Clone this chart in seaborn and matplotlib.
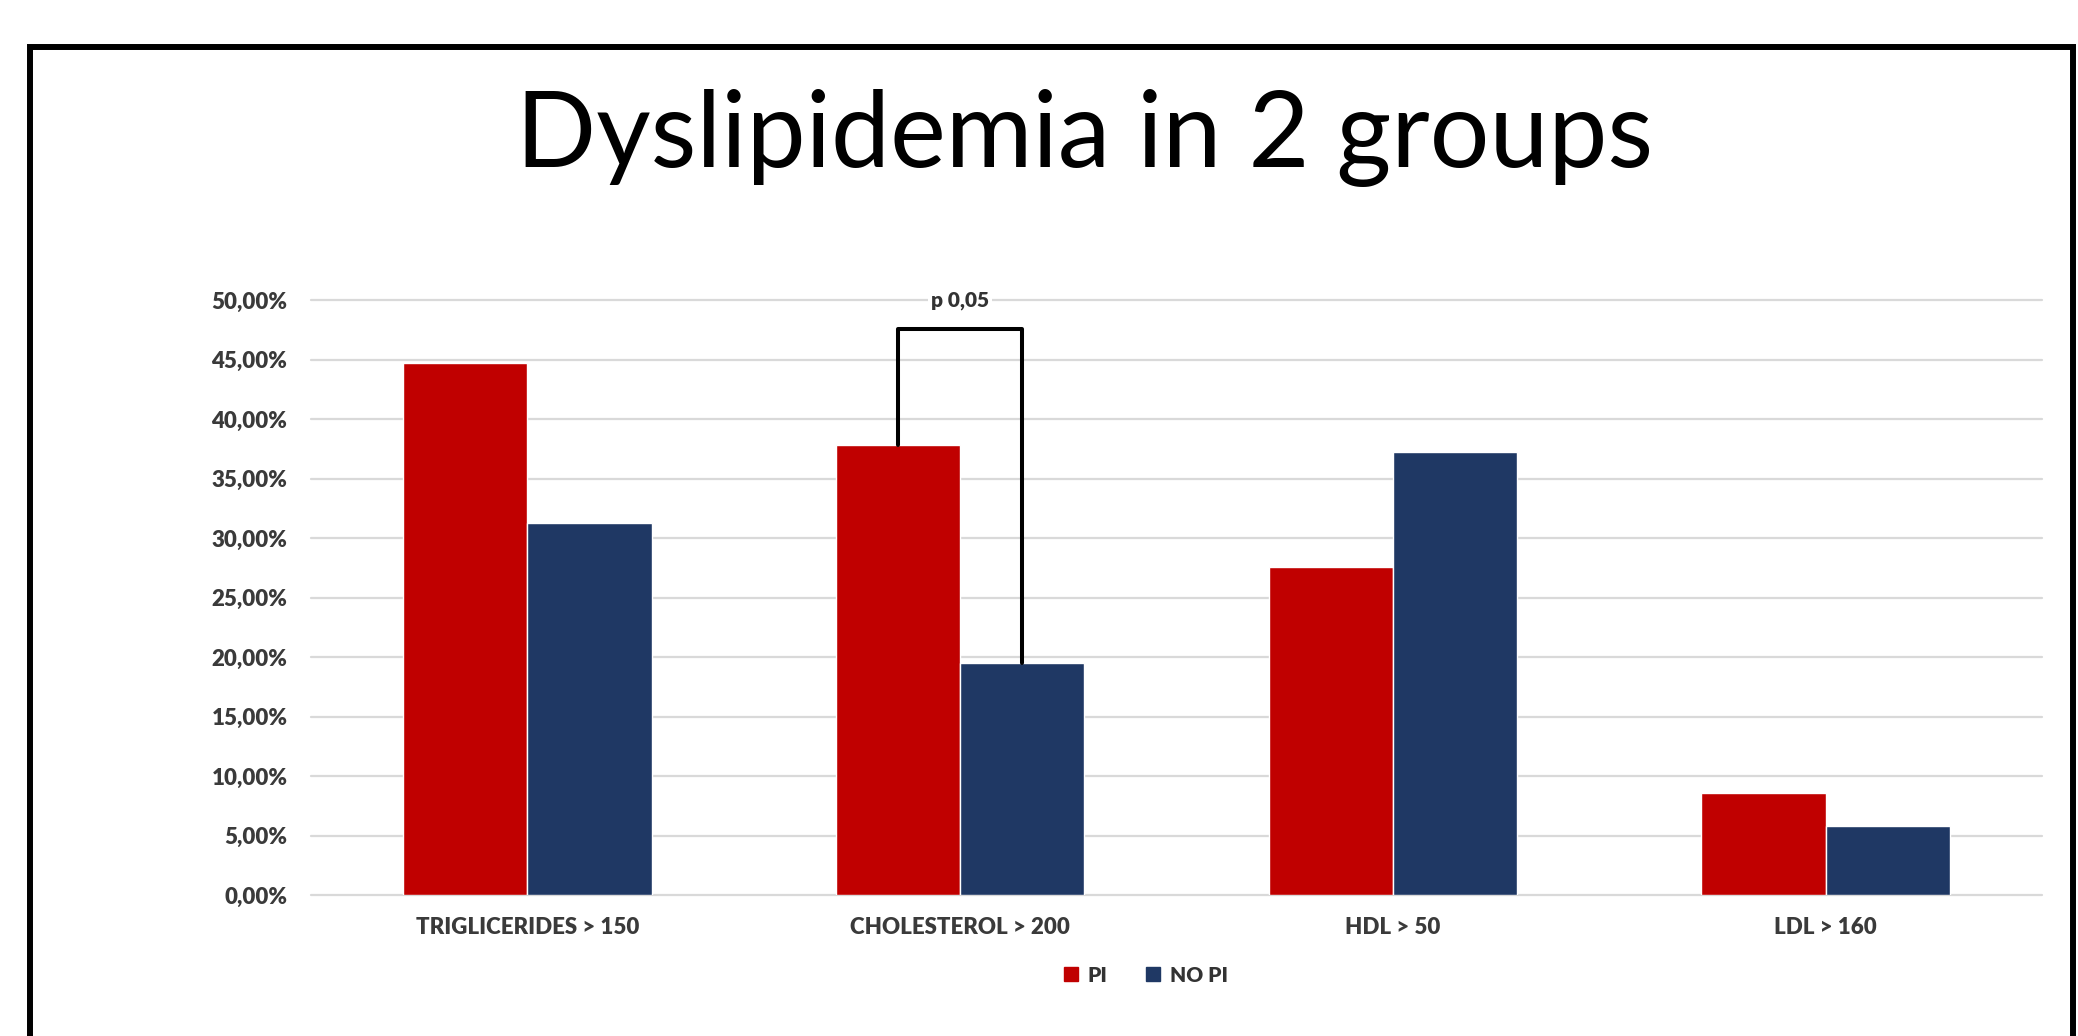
import numpy as np
import pandas as pd
import matplotlib.pyplot as plt
import seaborn as sns
from matplotlib.lines import Line2D

# dati (percentuali)
categories = ['TRIGLICERIDES > 150', 'CHOLESTEROL > 200', 'HDL > 50', 'LDL > 160']
groups = ['PI', 'NO PI']
pi_values = [44.7, 37.8, 27.6, 8.6]
no_pi_values = [31.3, 19.5, 37.2, 5.8]
colors = ['#C00000', '#1F3864']
y_ticks = [0, 5, 10, 15, 20, 25, 30, 35, 40, 45, 50]
y_labels = [f'{v:.2f}%'.replace('.', ',') for v in y_ticks]
bracket_top = 47.6
p_label = 'p 0,05'
title = 'Dyslipidemia in 2 groups'

df = pd.DataFrame({
    'categoria': categories * 2,
    'grupo': [groups[0]] * len(categories) + [groups[1]] * len(categories),
    'valor': pi_values + no_pi_values,
})

sns.set_style('white')
plt.rcParams['font.family'] = ['Lato', 'DejaVu Sans']

W, H = 2078, 1036
fig = plt.figure(figsize=(W / 100, H / 100), dpi=100)
ax = fig.add_axes([311 / W, 1 - 895 / H, 1731 / W, 595 / H])

bar_w = 0.574
sns.barplot(data=df, x='categoria', y='valor', hue='grupo', palette=colors,
            width=bar_w, gap=0, saturation=1, errorbar=None, legend=False, ax=ax)

ax.set_xlim(-0.5, len(categories) - 0.5)
ax.set_ylim(0, 50)
ax.set_yticks(y_ticks)
ax.set_yticklabels(y_labels, fontweight='heavy')
ax.set_xticks(range(len(categories)))
ax.set_xticklabels(categories, fontweight='heavy')
ax.set_xlabel('')
ax.set_ylabel('')
for s in ax.spines.values():
    s.set_visible(False)
ax.set_axisbelow(True)
ax.grid(axis='y', color='#D9D9D9', lw=1.6)
for gl in ax.yaxis.get_gridlines():
    gl.set_clip_on(False)

ax.tick_params(axis='y', length=0, pad=17, labelsize=16, labelcolor='#3a3a3a')
ax.tick_params(axis='x', length=0, pad=16, labelsize=16, labelcolor='#3a3a3a')

# parentesi p-value sopra il colesterolo
i = categories.index('CHOLESTEROL > 200')
x0, x1 = i - bar_w / 4, i + bar_w / 4
ax.plot([x0, x0, x1, x1], [pi_values[i], bracket_top, bracket_top, no_pi_values[i]],
        color='black', lw=2.9, solid_joinstyle='round', clip_on=False, zorder=5)
ax.text(i, 50, p_label, ha='center', va='center', fontsize=15, fontweight='heavy',
        color='#333333', bbox=dict(facecolor='white', edgecolor='none', pad=2), zorder=6)

handles = [Line2D([], [], marker='s', ls='', color=c, markersize=10) for c in colors]
fig.legend(handles, groups, loc='center', bbox_to_anchor=(1145 / W, 1 - 975 / H), ncol=2,
           frameon=False, prop={'weight': 'heavy', 'size': 15}, labelcolor='#333333',
           handlelength=0.8, handletextpad=0.4, columnspacing=1.8)

fig.text(1085 / W, 1 - 167 / H, title, ha='center', va='baseline', fontsize=76, color='black')

# cornice nera
bx = np.array([30, 30, 2073, 2073]) / W
by = 1 - np.array([1046, 47, 47, 1046]) / H
fig.add_artist(Line2D(bx, by, transform=fig.transFigure, color='black', lw=4.3,
                      solid_joinstyle='miter'))

fig.savefig('out.png', dpi=100)
